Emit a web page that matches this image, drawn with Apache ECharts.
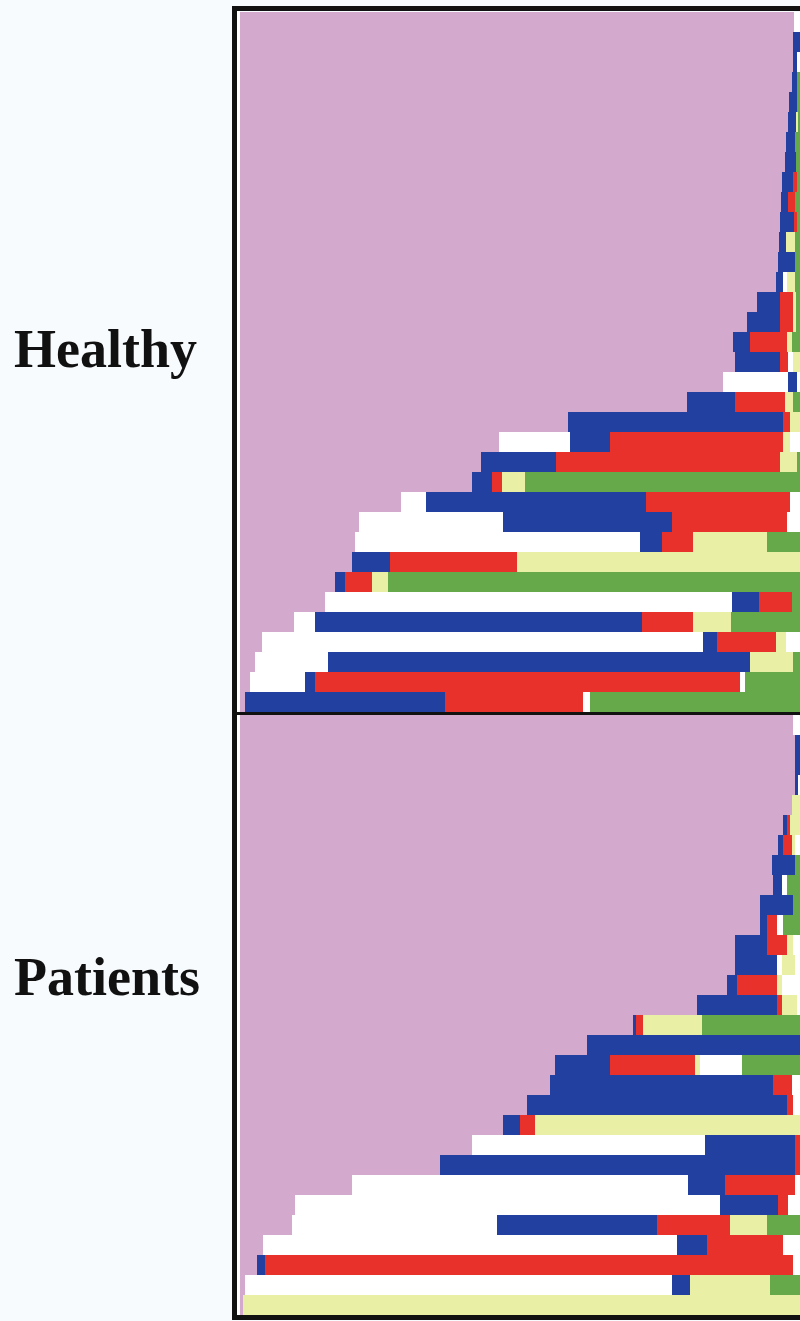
<!DOCTYPE html>
<html>
<head>
<meta charset="utf-8">
<script src="https://cdn.jsdelivr.net/npm/echarts@6/dist/echarts.min.js"></script>
<style>
  html, body { margin: 0; padding: 0; background: #f7fbfd; }
  #chart { width: 800px; height: 1321px; }
</style>
</head>
<body>
<div id="chart"></div>
<script>
// Stage codes: P = pink, W = white, B = blue, R = red, Y = pale yellow, G = green
const stageColors = { P: '#d3a9ce', W: '#ffffff', B: '#2140a0', R: '#e8312b', Y: '#e9f0a6', G: '#65a94a' };
const panelLabels = ['Healthy', 'Patients'];
const axisMax = 560;

// Healthy subjects (one row each, top to bottom): stage sequence and segment durations
const healthyStages = [
  'PW', 'PB', 'PBW', 'PBG', 'PBG', 'PBYG', 'PBG', 'PBG', 'PBRG', 'PBRG',
  'PBRG', 'PBYG', 'PBG', 'PBWYG', 'PBRYG', 'PBRYG', 'PBRYG', 'PBRWY', 'PWBW', 'PBRYG',
  'PBRY', 'PWBRYW', 'PBRYG', 'PBRYG', 'PWBRW', 'PWBRW', 'PWBRYG', 'PBRY', 'PBRYG', 'PWBRG',
  'PWBRYG', 'PWBRYW', 'PWBYG', 'PWBRWG', 'PBRWG'
];
const healthyDurations = [
  [554, 6], [553, 7], [553, 4, 3], [552, 5, 3], [549, 8, 3],
  [548, 8, 2, 2], [546, 9, 5], [545, 11, 4], [542, 11, 4, 3], [541, 7, 7, 5],
  [540, 14, 3, 3], [539, 7, 9, 5], [538, 17, 5], [536, 7, 4, 8, 5], [517, 23, 13, 3, 4],
  [507, 33, 13, 3, 4], [493, 17, 37, 5, 8], [495, 45, 8, 5, 7], [483, 65, 9, 3], [447, 48, 50, 8, 7],
  [328, 215, 7, 10], [259, 71, 40, 173, 7, 10], [241, 75, 224, 17, 3], [232, 20, 10, 23, 275], [161, 25, 220, 144, 10],
  [119, 144, 169, 115, 13], [115, 285, 22, 31, 74, 33], [112, 38, 127, 283], [95, 10, 27, 16, 412], [85, 407, 27, 33, 8],
  [54, 21, 327, 51, 38, 69], [22, 441, 14, 59, 10, 14], [15, 73, 422, 43, 7], [10, 55, 10, 425, 5, 55], [5, 200, 138, 7, 210]
];

// Patients (one row each, top to bottom)
const patientStages = [
  'PW', 'PB', 'PB', 'PBW', 'PY', 'PBRY', 'PBRYW', 'PBG', 'PBWG', 'PBG',
  'PBRWG', 'PBRYW', 'PBWYW', 'PBRYW', 'PBRYW', 'PBRYG', 'PB', 'PBRYWG', 'PBRW', 'PBRW',
  'PBRY', 'PWBR', 'PBR', 'PWBRW', 'PWBRW', 'PWBRYG', 'PWBRW', 'PBRW', 'PWBYG', 'PY'
];
const patientDurations = [
  [553, 7], [555, 5], [555, 5], [555, 3, 2], [552, 8],
  [543, 4, 3, 10], [538, 5, 9, 3, 5], [532, 23, 5], [533, 9, 5, 13], [520, 33, 7],
  [520, 7, 10, 6, 17], [495, 32, 20, 6, 7], [495, 42, 5, 13, 5], [487, 10, 40, 5, 18], [457, 80, 5, 15, 3],
  [393, 3, 7, 59, 98], [347, 213], [315, 55, 85, 5, 42, 58], [310, 223, 19, 8], [287, 260, 6, 7],
  [263, 17, 15, 265], [232, 233, 90, 5], [200, 355, 5], [112, 336, 37, 70, 5], [55, 425, 58, 10, 12],
  [52, 205, 160, 73, 37, 33], [23, 414, 30, 76, 17], [17, 8, 528, 7], [5, 427, 18, 80, 30], [3, 557]
];

function buildSeries(stages, durations, axisIndex) {
  const maxSeg = Math.max(...durations.map(d => d.length));
  const out = [];
  for (let k = 0; k < maxSeg; k++) {
    out.push({
      type: 'bar',
      stack: 'panel' + axisIndex,
      xAxisIndex: axisIndex,
      yAxisIndex: axisIndex,
      barCategoryGap: '0%',
      barGap: '0%',
      silent: true,
      data: durations.map((d, i) => k < d.length
        ? { value: d[k], itemStyle: { color: stageColors[stages[i][k]] } }
        : '-')
    });
  }
  return out;
}

const chart = echarts.init(document.getElementById('chart'), null, { renderer: 'canvas' });

const cats1 = healthyDurations.map((_, i) => 'H' + (i + 1));
const cats2 = patientDurations.map((_, i) => 'P' + (i + 1));

const option = {
  animation: false,
  backgroundColor: '#f7fbfd',
  grid: [
    { left: 240, right: 0, top: 12, height: 700, show: false },
    { left: 240, right: 0, top: 715, height: 600, show: false }
  ],
  xAxis: [
    { type: 'value', gridIndex: 0, min: 0, max: axisMax, show: false },
    { type: 'value', gridIndex: 1, min: 0, max: axisMax, show: false }
  ],
  yAxis: [
    { type: 'category', gridIndex: 0, data: cats1, inverse: true, show: false },
    { type: 'category', gridIndex: 1, data: cats2, inverse: true, show: false }
  ],
  series: [].concat(
    buildSeries(healthyStages, healthyDurations, 0),
    buildSeries(patientStages, patientDurations, 1)
  ),
  graphic: [
    { type: 'rect', shape: { x: 237, y: 11, width: 3, height: 1304 }, style: { fill: '#ffffff' }, z: 100 },
    { type: 'rect', shape: { x: 232, y: 6, width: 5, height: 1314 }, style: { fill: '#111111' }, z: 101 },
    { type: 'rect', shape: { x: 232, y: 6, width: 568, height: 5 }, style: { fill: '#111111' }, z: 101 },
    { type: 'rect', shape: { x: 232, y: 712, width: 568, height: 3 }, style: { fill: '#111111' }, z: 101 },
    { type: 'rect', shape: { x: 232, y: 1315, width: 568, height: 5 }, style: { fill: '#111111' }, z: 101 },
    { type: 'text', left: 14, top: 326, z: 101,
      style: { text: panelLabels[0], font: 'bold 54px "Liberation Serif"', fill: '#111111' } },
    { type: 'text', left: 14, top: 954, z: 101,
      style: { text: panelLabels[1], font: 'bold 54px "Liberation Serif"', fill: '#111111' } }
  ]
};
chart.setOption(option);
</script>
</body>
</html>
